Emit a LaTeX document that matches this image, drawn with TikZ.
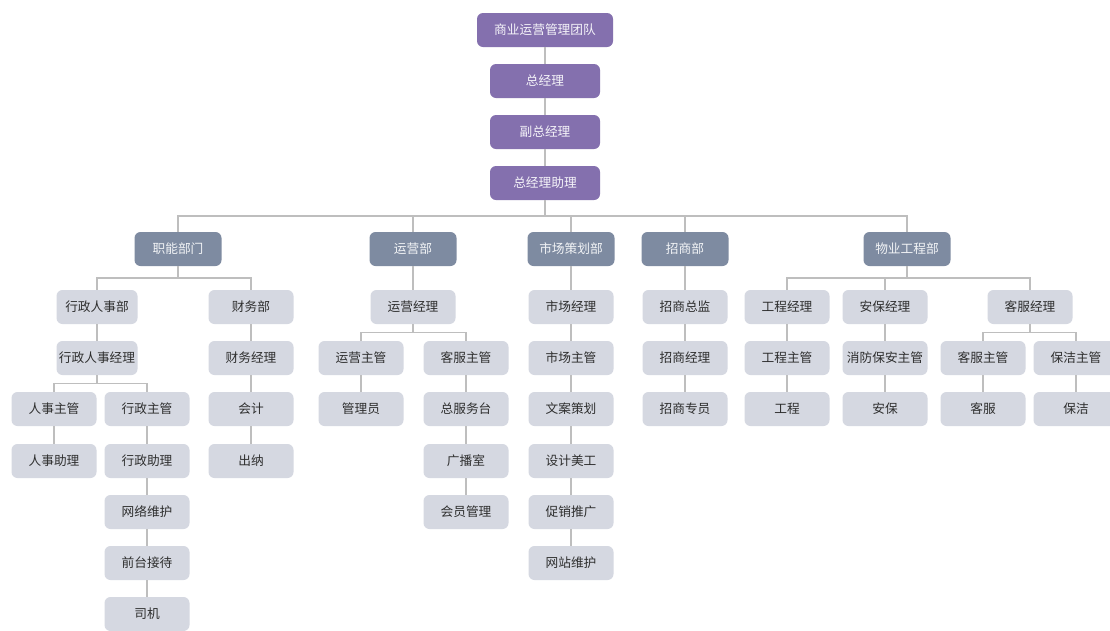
\documentclass[tikz,border=0pt]{standalone}
\usepackage{fontspec}
\newfontfamily\cjk{Noto Sans CJK SC}
\usetikzlibrary{calc}
\definecolor{purp}{HTML}{8470AE}
\definecolor{dept}{HTML}{7E8BA1}
\definecolor{lite}{HTML}{D5D8E1}
\definecolor{ln}{HTML}{BEBEBE}
\definecolor{dtext}{HTML}{2E2E2E}
\begin{document}
\begin{tikzpicture}[x=1pt,y=-1pt,
 box/.style={rounded corners=6pt, minimum height=34pt, inner sep=0pt, font=\cjk\fontsize{12.7}{14}\selectfont},
 topbox/.style={box, fill=purp, text=white!92!purp, minimum width=110pt},
 depbox/.style={box, fill=dept, text=white!90!dept, minimum width=87pt},
 subbox/.style={box, fill=lite, text=dtext, minimum width=85pt},
 link/.style={draw=ln, line width=1.6pt},
 tree/.style={to path={(\tikztostart) |- ($(\tikztostart)!0.5!(\tikztotarget)$) -| (\tikztotarget)}}
]
\useasboundingbox (0,0) rectangle (1110,630);
\fill[white] (0,0) rectangle (1110,630);
\clip (0,0) rectangle (1110,630);
\def\ra{307}\def\rb{358}\def\rc{409}\def\rd{461}\def\re{512}\def\rf{563}\def\rg{614}
% top
\node[topbox, minimum width=136pt] (t0) at (545,30) {商业运营管理团队};
\node[topbox] (t1) at (545,81) {总经理};
\node[topbox] (t2) at (545,132) {副总经理};
\node[topbox] (t3) at (545,183) {总经理助理};
% departments
\node[depbox] (d1) at (178,249) {职能部门};
\node[depbox] (d2) at (413,249) {运营部};
\node[depbox] (d3) at (571,249) {市场策划部};
\node[depbox] (d4) at (685,249) {招商部};
\node[depbox] (d5) at (907,249) {物业工程部};
% column 1
\node[subbox, minimum width=81pt] (a1) at (97,\ra) {行政人事部};
\node[subbox, minimum width=81pt] (a2) at (97,\rb) {行政人事经理};
\node[subbox] (a3) at (54,\rc) {人事主管};
\node[subbox] (a4) at (54,\rd) {人事助理};
\node[subbox] (a5) at (147,\rc) {行政主管};
\node[subbox] (a6) at (147,\rd) {行政助理};
\node[subbox] (a7) at (147,\re) {网络维护};
\node[subbox] (a8) at (147,\rf) {前台接待};
\node[subbox] (a9) at (147,\rg) {司机};
\node[subbox] (b1) at (251,\ra) {财务部};
\node[subbox] (b2) at (251,\rb) {财务经理};
\node[subbox] (b3) at (251,\rc) {会计};
\node[subbox] (b4) at (251,\rd) {出纳};
% column 2
\node[subbox] (c1) at (413,\ra) {运营经理};
\node[subbox] (c2) at (361,\rb) {运营主管};
\node[subbox] (c3) at (361,\rc) {管理员};
\node[subbox] (c4) at (466,\rb) {客服主管};
\node[subbox] (c5) at (466,\rc) {总服务台};
\node[subbox] (c6) at (466,\rd) {广播室};
\node[subbox] (c7) at (466,\re) {会员管理};
% column 3
\node[subbox] (m1) at (571,\ra) {市场经理};
\node[subbox] (m2) at (571,\rb) {市场主管};
\node[subbox] (m3) at (571,\rc) {文案策划};
\node[subbox] (m4) at (571,\rd) {设计美工};
\node[subbox] (m5) at (571,\re) {促销推广};
\node[subbox] (m6) at (571,\rf) {网站维护};
% column 4
\node[subbox] (z1) at (685,\ra) {招商总监};
\node[subbox] (z2) at (685,\rb) {招商经理};
\node[subbox] (z3) at (685,\rc) {招商专员};
% column 5
\node[subbox] (w1) at (787,\ra) {工程经理};
\node[subbox] (w2) at (787,\rb) {工程主管};
\node[subbox] (w3) at (787,\rc) {工程};
\node[subbox] (s1) at (885,\ra) {安保经理};
\node[subbox] (s2) at (885,\rb) {消防保安主管};
\node[subbox] (s3) at (885,\rc) {安保};
\node[subbox] (k1) at (1030,\ra) {客服经理};
\node[subbox] (k2) at (983,\rb) {客服主管};
\node[subbox] (k3) at (983,\rc) {客服};
\node[subbox] (k4) at (1076,\rb) {保洁主管};
\node[subbox] (k5) at (1076,\rc) {保洁};
% connectors
\foreach \p/\c in {t0/t1,t1/t2,t2/t3,
  t3/d1,t3/d2,t3/d3,t3/d4,t3/d5,
  d1/a1,d1/b1,a1/a2,a2/a3,a2/a5,a3/a4,a5/a6,a6/a7,a7/a8,a8/a9,
  b1/b2,b2/b3,b3/b4,
  d2/c1,c1/c2,c1/c4,c2/c3,c4/c5,c5/c6,c6/c7,
  d3/m1,m1/m2,m2/m3,m3/m4,m4/m5,m5/m6,
  d4/z1,z1/z2,z2/z3,
  d5/w1,d5/s1,d5/k1,w1/w2,w2/w3,s1/s2,s2/s3,k1/k2,k1/k4,k2/k3,k4/k5}
  \draw[link] (\p.south) to[tree] (\c.north);
\end{tikzpicture}
\end{document}
